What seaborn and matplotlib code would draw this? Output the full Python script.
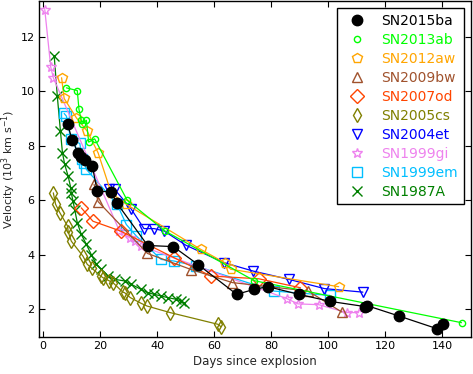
import seaborn as sns
import matplotlib.pyplot as plt
from matplotlib.lines import Line2D

# days since explosion / velocity (10^3 km/s)
sn2015ba_days = [8.6, 10.2, 12.3, 13.2, 14.6, 17.3, 19.0, 23.7, 26.0, 36.7, 45.7,
                 54.4, 67.9, 74.0, 78.9, 89.7, 100.8, 113.0, 113.8, 125.0, 138.2, 140.3]
sn2015ba_vel = [8.81, 8.20, 7.74, 7.59, 7.46, 7.25, 6.33, 6.31, 5.88, 4.34, 4.30,
                3.64, 2.55, 2.73, 2.83, 2.55, 2.29, 2.10, 2.13, 1.75, 1.29, 1.45]

sn2013ab_days = [8.2, 12.0, 12.6, 13.4, 13.8, 15.2, 16.0, 18.1, 29.5, 42.8, 74.1, 146.8]
sn2013ab_vel = [10.12, 10.02, 9.33, 8.93, 8.80, 8.93, 8.13, 8.25, 6.00, 4.87, 3.05, 1.51]

sn2012aw_days = [6.5, 7.4, 11.7, 15.5, 19.3, 23.9, 29.2, 55.3, 63.7, 65.8, 103.7]
sn2012aw_vel = [10.49, 9.73, 9.02, 8.53, 7.74, 6.27, 5.85, 4.20, 3.71, 3.47, 2.83]

sn2009bw_days = [17.9, 19.3, 36.6, 51.9, 66.4, 93.0, 104.8]
sn2009bw_vel = [6.58, 5.95, 4.05, 3.46, 2.98, 2.67, 1.90]

sn2007od_days = [13.4, 17.5, 27.2, 46.0, 58.9, 75.7, 90.3]
sn2007od_vel = [5.72, 5.23, 4.87, 3.89, 3.22, 3.12, 2.79]

sn2005cs_days = [3.6, 4.4, 5.9, 8.6, 8.8, 9.9, 14.0, 15.5, 17.2, 20.2, 21.0, 23.3,
                 24.5, 28.0, 28.6, 30.6, 34.4, 36.5, 44.6, 61.4, 62.3]
sn2005cs_vel = [6.27, 5.85, 5.54, 5.05, 4.85, 4.50, 3.95, 3.65, 3.50, 3.22, 3.16, 3.04,
                2.98, 2.63, 2.61, 2.43, 2.22, 2.12, 1.88, 1.45, 1.37]

sn2004et_days = [23.3, 25.1, 30.9, 35.4, 39.0, 42.5, 50.1, 63.5, 73.8, 86.2, 98.7, 112.2]
sn2004et_vel = [6.40, 6.40, 5.68, 4.96, 4.96, 4.87, 4.35, 3.71, 3.40, 3.10, 2.76, 2.63]

sn1999gi_days = [0.6, 2.7, 3.6, 26.8, 30.5, 32.1, 34.4, 85.6, 89.4, 96.7, 106.6, 110.7]
sn1999gi_vel = [12.99, 10.88, 10.49, 4.87, 4.62, 4.50, 4.32, 2.39, 2.20, 2.17, 1.88, 1.88]

sn1999em_days = [7.4, 8.2, 9.7, 12.9, 13.7, 14.4, 15.2, 26.0, 29.2, 32.7, 41.4, 46.0,
                 53.6, 81.0, 100.6]
sn1999em_vel = [9.18, 9.08, 8.23, 8.08, 7.52, 7.37, 7.13, 5.85, 5.11, 4.69, 3.83, 3.77,
                3.59, 2.67, 2.51]

sn1987a_days = [3.9, 5.0, 6.1, 6.8, 7.6, 8.8, 9.7, 9.9, 10.5, 11.1, 12.0, 13.4, 15.2,
                16.9, 18.7, 20.4, 22.8, 25.1, 28.6, 30.9, 34.4, 36.7, 39.0, 41.4,
                43.7, 46.6, 48.4, 49.3]
sn1987a_vel = [11.30, 9.81, 8.53, 7.74, 7.31, 6.88, 6.46, 6.27, 5.97, 5.66, 5.18, 4.75,
               4.38, 4.01, 3.65, 3.47, 3.22, 3.10, 3.04, 2.92, 2.73, 2.61, 2.55, 2.49,
               2.43, 2.37, 2.30, 2.22]

names = ['SN2015ba', 'SN2013ab', 'SN2012aw', 'SN2009bw', 'SN2007od',
         'SN2005cs', 'SN2004et', 'SN1999gi', 'SN1999em', 'SN1987A']
days = [sn2015ba_days, sn2013ab_days, sn2012aw_days, sn2009bw_days, sn2007od_days,
        sn2005cs_days, sn2004et_days, sn1999gi_days, sn1999em_days, sn1987a_days]
vels = [sn2015ba_vel, sn2013ab_vel, sn2012aw_vel, sn2009bw_vel, sn2007od_vel,
        sn2005cs_vel, sn2004et_vel, sn1999gi_vel, sn1999em_vel, sn1987a_vel]
colors = ['black', '#00ff00', '#ffa500', '#a0522d', '#ff4500',
          '#808000', '#0000ff', '#ee82ee', '#00bfff', '#008000']
markers = ['o', 'o', 'p', '^', 'D', 'd', 'v', '*', 's', 'x']
msizes = [7.5, 4.5, 7, 7, 7, 7.5, 7, 7, 7, 7]

sns.set_style("ticks", {"xtick.direction": "in", "ytick.direction": "in",
                        "xtick.top": True, "ytick.right": True})
plt.rcParams['font.family'] = ['DejaVu Sans']

fig, ax = plt.subplots(figsize=(4.73, 3.74), dpi=100)

# draw oldest first so SN2015ba sits on top
for i in reversed(range(len(names))):
    face = colors[i] if i == 0 else 'none'
    sns.lineplot(x=days[i], y=vels[i], ax=ax, color=colors[i], estimator=None,
                 sort=False, lw=0.9, marker=markers[i], markersize=msizes[i],
                 markerfacecolor=face, markeredgecolor=colors[i],
                 markeredgewidth=1)

handles = []
for i in range(len(names)):
    face = colors[i] if i == 0 else 'none'
    handles.append(Line2D([], [], linestyle='none', marker=markers[i],
                          markersize=msizes[i], markerfacecolor=face,
                          markeredgecolor=colors[i], markeredgewidth=1))
leg = ax.legend(handles, names, loc='upper right', fontsize=10, numpoints=1,
                labelspacing=0.36, fancybox=False, framealpha=1,
                edgecolor='black')
for txt, c in zip(leg.get_texts(), colors):
    txt.set_color(c)

ax.set_xlim(-1.5, 150)
ax.set_ylim(1, 13.3)
ax.set_xticks(range(0, 141, 20))
ax.set_yticks(range(2, 13, 2))
ax.tick_params(labelsize=8, length=4, width=0.8, pad=3, colors='black')
ax.set_xlabel('Days since explosion', fontsize=8.5, labelpad=3)
ax.set_ylabel('Velocity (10$^3$ km s$^{-1}$)', fontsize=8, labelpad=2)
for s in ax.spines.values():
    s.set_color('black')
    s.set_linewidth(1)

fig.subplots_adjust(left=0.082, right=0.995, bottom=0.10, top=0.997)
fig.savefig('out.png', dpi=100)
